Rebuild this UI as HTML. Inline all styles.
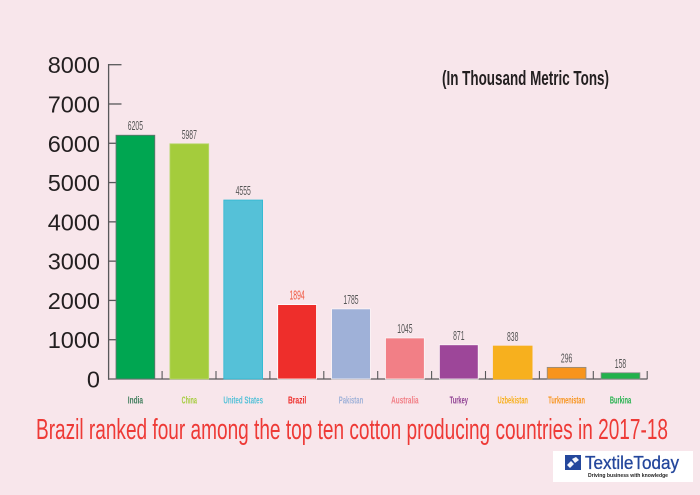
<!DOCTYPE html>
<html lang="en">
<head>
<meta charset="utf-8">
<title>Top ten cotton producing countries 2017-18</title>
<style>
html,body{margin:0;padding:0;background:#f8e6eb;}
svg{display:block;font-family:"Liberation Sans",sans-serif;}
</style>
</head>
<body>
<svg id="chart" xmlns="http://www.w3.org/2000/svg" width="700" height="495" viewBox="0 0 700 495">
  <rect x="0" y="0" width="700" height="495" fill="#f8e6eb"/>
  <g id="y-axis"></g>
  <g id="x-axis"></g>
  <g id="bars"></g>
  <text x="442" y="85" font-size="20.5" font-weight="700" fill="#231f20" textLength="167" lengthAdjust="spacingAndGlyphs">(In Thousand Metric Tons)</text>
  <text x="36" y="439" font-size="29" fill="#ee3a36" textLength="632" lengthAdjust="spacingAndGlyphs">Brazil ranked four among the top ten cotton producing countries in 2017-18</text>
  <g>
    <rect x="553" y="451" width="140" height="31" fill="#ffffff"/>
    <rect x="565" y="455" width="16" height="15" fill="#24479c"/>
    <path d="M567 465l4-4 3 3-4 4zM572 459l4-2 3 3-4 3z" fill="#f4f6fb"/>
    <text x="585" y="469" font-size="18" fill="#24479c" stroke="#24479c" stroke-width="0.3" textLength="94" lengthAdjust="spacingAndGlyphs">TextileToday</text>
    <text x="588" y="477" font-size="5" font-weight="700" fill="#222222" textLength="80" lengthAdjust="spacingAndGlyphs">Driving business with knowledge</text>
  </g>
</svg>
<script>
var categories = ["India", "China", "United States", "Brazil", "Pakistan", "Australia", "Turkey", "Uzbekistan", "Turkmenistan", "Burkina"];
var seriesValues = [6205, 5987, 4555, 1894, 1785, 1045, 871, 838, 296, 158];
var yTickLabels = [0, 1000, 2000, 3000, 4000, 5000, 6000, 7000, 8000];
var barColors = ["#00a651", "#a4cc3c", "#55c1d8", "#ee2e2b", "#9fb1d8", "#f27f86", "#9d4699", "#f7b01e", "#f7941d", "#22b14c"];
var barOutlines = ["#6d6e71", "#b9d870", "#2fb8d2", "#ffffff", "#fbf4f6", "#fbf4f6", "#fbf4f6", "#f7b01e", "#8a8a8a", "#8a8a8a"];
var labelColors = ["#3f7d5c", "#a4cc3c", "#55c1d8", "#ee2e2b", "#9fb1d8", "#f27f86", "#8e3f92", "#f7b01e", "#f7941d", "#22b14c"];
var valueLabelColors = ["#555555", "#555555", "#555555", "#f0563f", "#555555", "#555555", "#555555", "#555555", "#555555", "#555555"];

var NS = "http://www.w3.org/2000/svg";
var axisColor = "#58585a";

function yScale(v) { return 379 - (v / 8000) * (379 - 64.7); }
function xBand(i) { return 116 + i * 53.9; }
var barWidth = 38.8;

function node(parent, tag, attrs) {
  var el = document.createElementNS(NS, tag);
  for (var k in attrs) { el.setAttribute(k, attrs[k]); }
  parent.appendChild(el);
  return el;
}

var yAxis = document.getElementById("y-axis");
var xAxis = document.getElementById("x-axis");
var barsGroup = document.getElementById("bars");

var yLine = node(yAxis, "line", {x1: 108.6, x2: 108.6, y1: yScale(8000) - 0.7, y2: yScale(0) + 0.7, stroke: axisColor, "stroke-width": 1.3});



yTickLabels.forEach(function (t) {
  var y = yScale(t);
  if (t > 0) {
    var tick = node(yAxis, "line", {x1: 108.6, x2: 121.5, y1: y, y2: y, stroke: axisColor, "stroke-width": 1.3});
    
    
  }
  var lab = node(yAxis, "text", {x: 100, y: y + 8.5, "text-anchor": "end", "font-size": 23.5, fill: "#231f20"});
  
  
  lab.textContent = t;
});

var xEnd = xBand(categories.length - 1) + barWidth + 7.5;
var xLine = node(xAxis, "line", {x1: 108, x2: xEnd, y1: yScale(0), y2: yScale(0), stroke: axisColor, "stroke-width": 1.3});



categories.forEach(function (c, i) {
  var x = xBand(i);
  var cx = x + barWidth / 2;

  var tick = node(xAxis, "line", {x1: x + barWidth + 7.3, x2: x + barWidth + 7.3, y1: yScale(0) - 8, y2: yScale(0), stroke: axisColor, "stroke-width": 1.1});
  
  

  var top = yScale(seriesValues[i]);
  var bar = node(barsGroup, "rect", {x: x, y: top, width: barWidth, height: yScale(0) - top, fill: barColors[i], stroke: barOutlines[i], "stroke-width": 0.8});
  
  

  var digits = String(seriesValues[i]).length;
  var val = node(barsGroup, "text", {x: cx, y: top - 5, "text-anchor": "middle", "font-size": 13, fill: valueLabelColors[i], textLength: digits * 3.8, lengthAdjust: "spacingAndGlyphs"});
  
  
  val.textContent = seriesValues[i];

  var cat = node(xAxis, "text", {x: cx, y: 403.5, "text-anchor": "middle", "font-size": 10.5, "font-weight": 700, fill: labelColors[i], textLength: c.length * 3.05, lengthAdjust: "spacingAndGlyphs"});
  
  
  cat.textContent = c;
});
</script>
</body>
</html>
